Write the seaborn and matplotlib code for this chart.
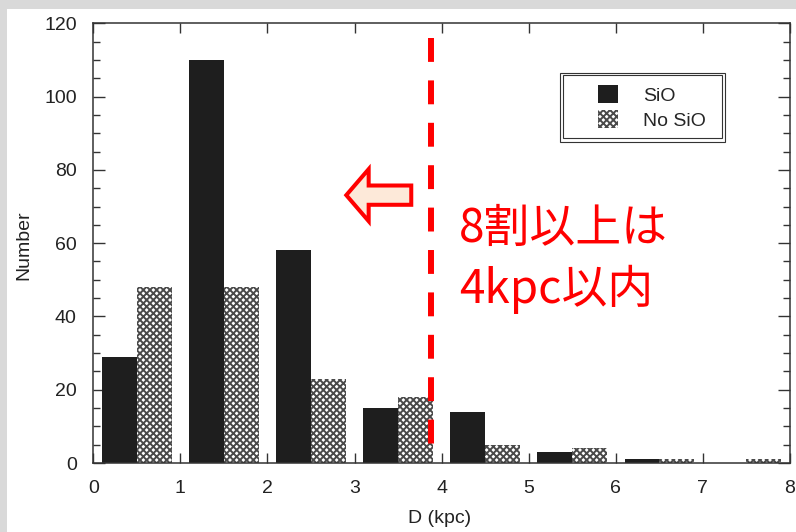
import matplotlib
matplotlib.use("Agg")
import matplotlib.pyplot as plt
import numpy as np
import pandas as pd
import seaborn as sns
from matplotlib.patches import Patch, Rectangle, FancyArrow
from matplotlib.ticker import MultipleLocator, NullLocator

# Distance bins (kpc, lower edges) and source counts per bin
dist_bins = [0, 1, 2, 3, 4, 5, 6, 7]
sio_counts = [29, 110, 58, 15, 14, 3, 1, 0]
nosio_counts = [48, 48, 23, 18, 5, 4, 1, 1]
series_labels = ["SiO", "No SiO"]
x_ticks = [0, 1, 2, 3, 4, 5, 6, 7, 8]
y_ticks = [0, 20, 40, 60, 80, 100, 120]
note_lines = ["8割以上は", "4kpc以内"]

df = pd.DataFrame({
    "D": [b + 0.5 for b in dist_bins] * 2,
    "N": sio_counts + nosio_counts,
    "kind": [series_labels[0]] * len(dist_bins) + [series_labels[1]] * len(dist_bins),
})

sns.set_style("ticks")
plt.rcParams["font.family"] = ["Liberation Sans", "DejaVu Sans"]
plt.rcParams["hatch.linewidth"] = 1.4

SOLID = "#1e1e1e"
HATCH_C = "#4a4a4a"
AX_C = "#333333"

W, H = 796, 532
fig = plt.figure(figsize=(W / 100, H / 100), dpi=100, facecolor="#d9d9d9")
fig.patches.append(Rectangle((7 / W, 0), 1 - 7 / W, 1 - 9 / H, transform=fig.transFigure,
                             facecolor="white", edgecolor="none", zorder=-10))

ax_l, ax_r, ax_t, ax_b = 93.3, 790.0, 23.3, 463.0
ax = fig.add_axes([ax_l / W, 1 - ax_b / H, (ax_r - ax_l) / W, (ax_b - ax_t) / H])

sns.barplot(data=df, x="D", y="N", hue="kind", hue_order=series_labels,
            native_scale=True, width=0.8, dodge=True,
            palette=[SOLID, "white"], saturation=1, errorbar=None,
            legend=False, ax=ax)

# Solid bars sit in the left half of each bin, hatched ones in the right half
for p in list(ax.patches):
    if (p.get_x() % 1) < 0.3:
        p.set_facecolor(SOLID)
        p.set_edgecolor("none")
        p.set_linewidth(0)
    else:
        p.set_facecolor("white")
        p.set_edgecolor(HATCH_C)
        p.set_hatch("xxxxx")
        p.set_linewidth(0)

ax.set_xlim(0, 8)
ax.set_ylim(0, 120)
ax.set_xticks(x_ticks)
ax.set_xticklabels([str(v) for v in x_ticks])
ax.set_yticks(y_ticks)
ax.set_yticklabels([str(v) for v in y_ticks])
ax.yaxis.set_minor_locator(MultipleLocator(5))
ax.xaxis.set_minor_locator(NullLocator())

ax.tick_params(axis="both", which="both", direction="in", top=True, right=True,
               color=AX_C, width=1.0, labelsize=14, labelcolor="#222222", pad=12)
ax.tick_params(axis="x", which="major", length=7.5)
ax.tick_params(axis="y", which="major", length=8.5)
ax.tick_params(axis="y", which="minor", length=5)
for s in ax.spines.values():
    s.set_linewidth(1.1)
    s.set_color(AX_C)

ax.set_xlabel("D (kpc)", fontsize=14, color="#222222")
ax.set_ylabel("Number", fontsize=14, color="#222222")
ax.xaxis.set_label_coords(0.4976, -0.107)
ax.yaxis.set_label_coords(-0.088, 0.496)

# Legend with a double-line frame
handles = [Patch(facecolor=SOLID, edgecolor="none"),
           Patch(facecolor="white", edgecolor=HATCH_C, hatch="xxxxx", linewidth=0)]
ax.legend(handles, series_labels, loc="upper left",
          bbox_to_anchor=(598 / W, 1 - 85 / H), bbox_transform=fig.transFigure,
          frameon=False, borderpad=0, borderaxespad=0, handlelength=1.03,
          handleheight=1.03, handletextpad=1.3, labelspacing=0.3, fontsize=14)
for (x0, y0, x1, y1) in [(560, 72.7, 725, 141.7), (562.7, 75, 722.3, 138.3)]:
    fig.add_artist(Rectangle((x0 / W, 1 - y1 / H), (x1 - x0) / W, (y1 - y0) / H,
                             transform=fig.transFigure, fill=False,
                             edgecolor=AX_C, linewidth=0.8, zorder=5))

# 4 kpc boundary and annotation
ax.plot([3.875, 3.875], [115.9, 4.6], color="red", lw=4.3, dashes=(4.0, 3.1),
        dash_capstyle="butt", solid_capstyle="butt", zorder=6)
ax.add_patch(FancyArrow(3.651, 73.1, -(3.651 - 2.905), 0, width=5.26, head_width=14.2,
                        head_length=0.257, length_includes_head=True,
                        facecolor="#fde9d9", edgecolor="red", linewidth=2.9,
                        joinstyle="miter", zorder=6))
cjk = ["Noto Sans CJK JP", "DejaVu Sans"]
ax.text(4.20, 64.0, note_lines[0], color="red", fontsize=33, family=cjk,
        ha="left", va="center", zorder=7)
ax.text(4.20, 47.3, note_lines[1], color="red", fontsize=33, family=cjk,
        ha="left", va="center", zorder=7)

fig.savefig("out.png", dpi=100, facecolor=fig.get_facecolor())
